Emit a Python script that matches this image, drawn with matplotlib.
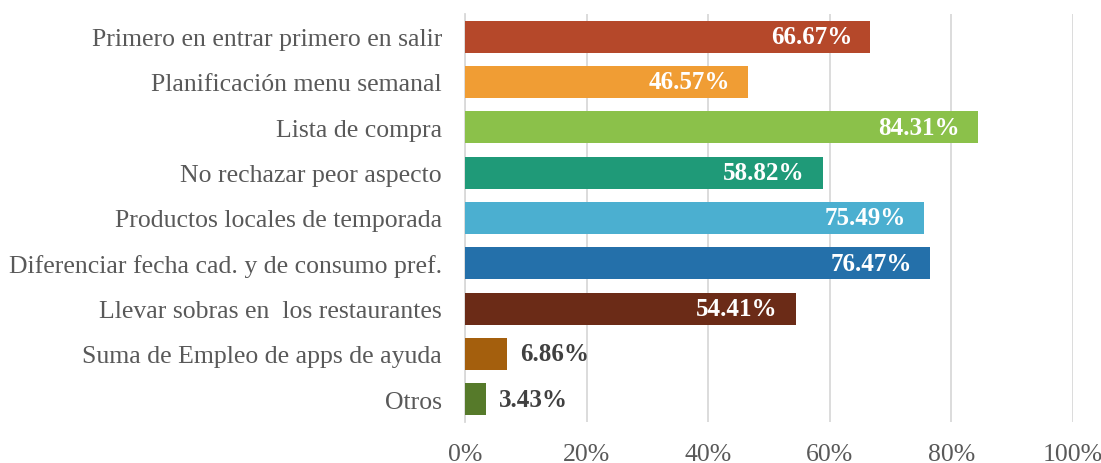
import matplotlib
matplotlib.use("Agg")
import matplotlib.pyplot as plt

categories = [
    "Primero en entrar primero en salir",
    "Planificación menu semanal",
    "Lista de compra",
    "No rechazar peor aspecto",
    "Productos locales de temporada",
    "Diferenciar fecha cad. y de consumo pref.",
    "Llevar sobras en  los restaurantes",
    "Suma de Empleo de apps de ayuda",
    "Otros",
]
values = [66.67, 46.57, 84.31, 58.82, 75.49, 76.47, 54.41, 6.86, 3.43]
colors = ["#B5482A", "#F09D34", "#8BC14A", "#1F9A78", "#4BAFD0",
          "#2470AA", "#6B2B17", "#A45F0D", "#567A2A"]
xticks = [0, 20, 40, 60, 80, 100]
xticklabels = ["0%", "20%", "40%", "60%", "80%", "100%"]

plt.rcParams['font.family'] = ['Liberation Serif', 'DejaVu Serif']

fig = plt.figure(figsize=(11.01, 4.64), dpi=100)
ax = fig.add_axes([0.4223, 0.0884, 0.5523, 0.8793])

ypos = list(range(len(categories)))
ax.barh(ypos, values, height=0.71, color=colors, zorder=3)
ax.set_ylim(len(categories) - 0.5, -0.5)
ax.set_xlim(0, 100)
ax.set_yticks(ypos)
ax.set_yticklabels(categories, fontsize=18.5, color="#595959")
ax.set_xticks(xticks)
ax.set_xticklabels(xticklabels, fontsize=18.5, color="#595959")
ax.tick_params(axis='both', length=0)
ax.tick_params(axis='y', pad=16.5)
ax.tick_params(axis='x', pad=15)
ax.grid(axis='x', color="#D9D9D9", linewidth=1.3, zorder=0)
for s in ["top", "right", "bottom"]:
    ax.spines[s].set_visible(False)
ax.spines["left"].set_color("#D9D9D9")
ax.spines["left"].set_linewidth(1.3)

for y, v in zip(ypos, values):
    txt = f"{v:.2f}%"
    if v > 20:
        ax.annotate(txt, (v, y), xytext=(-13, 0), textcoords="offset points",
                    ha="right", va="center", fontsize=18, fontweight="bold",
                    color="white", zorder=4)
    else:
        ax.annotate(txt, (v, y), xytext=(9.5, 0), textcoords="offset points",
                    ha="left", va="center", fontsize=18, fontweight="bold",
                    color="#404040", zorder=4)

fig.savefig("out.png", dpi=100)
